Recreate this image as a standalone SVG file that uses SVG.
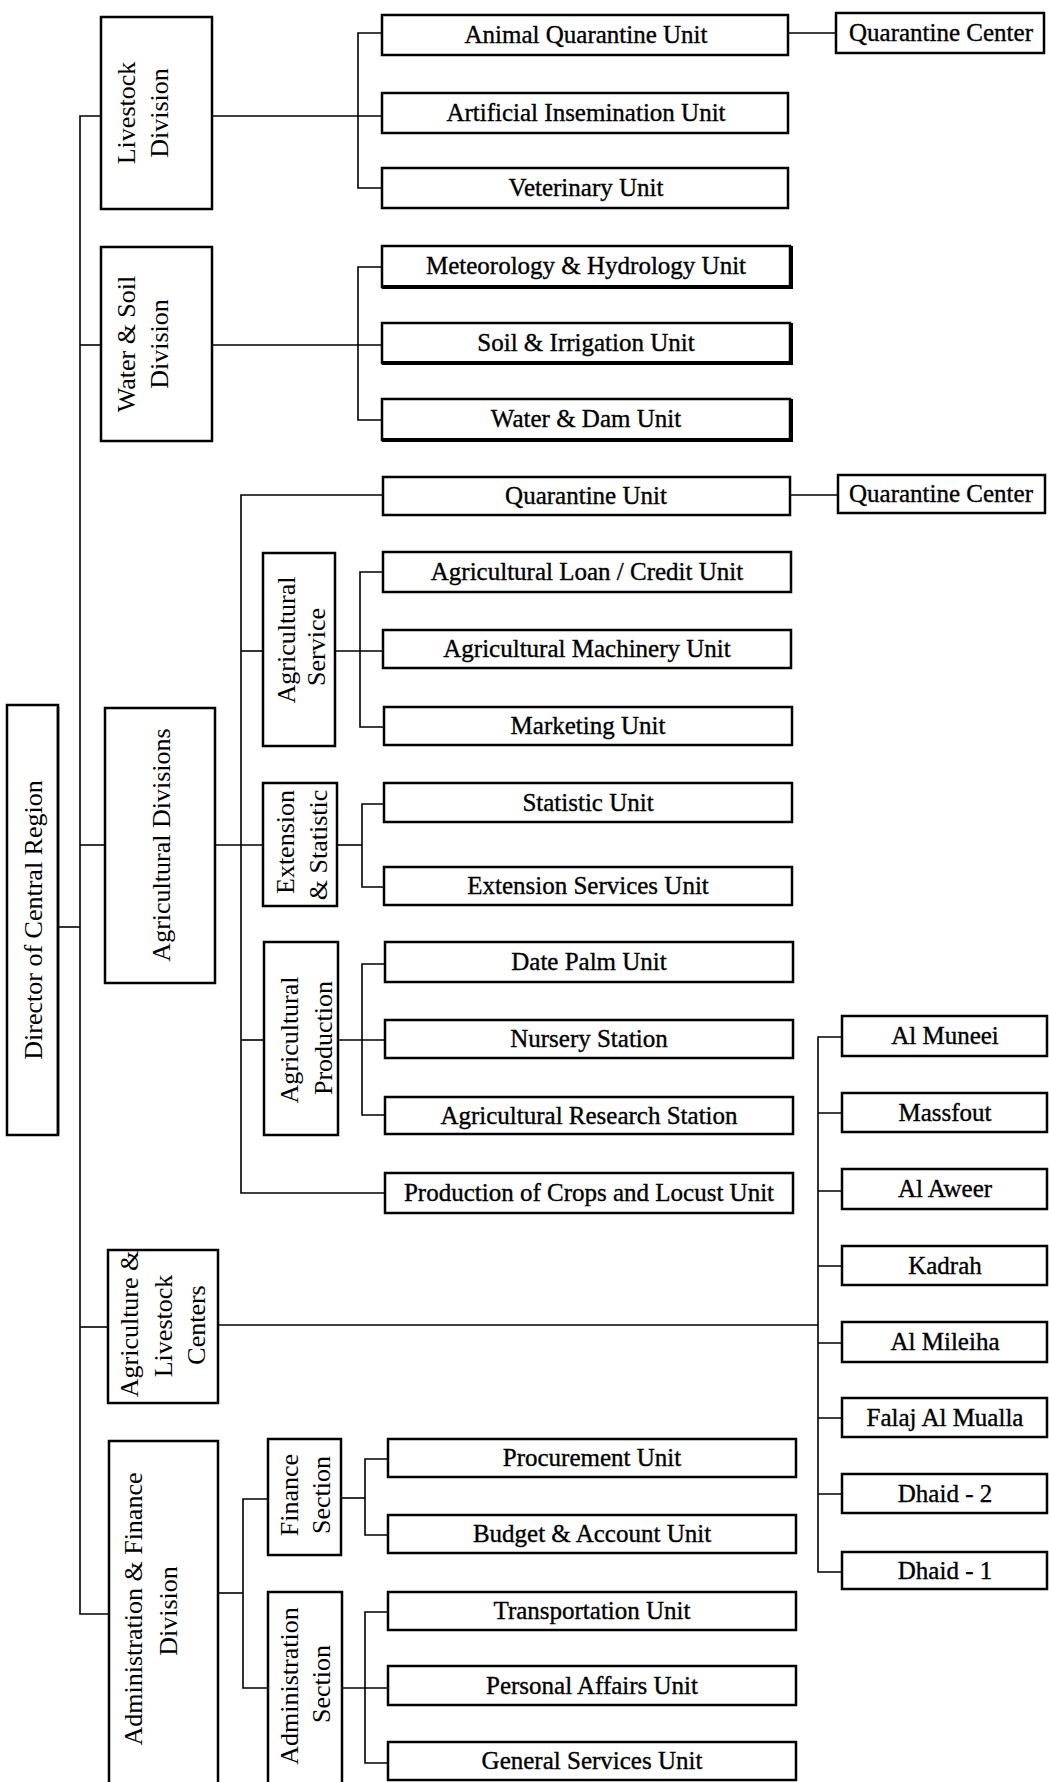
<svg xmlns="http://www.w3.org/2000/svg" width="1049" height="1782" viewBox="0 0 1049 1782">
<style>
.bg{fill:#fff}
.box{fill:#fff;stroke:#000;stroke-width:2.5}
.ln{fill:none;stroke:#000;stroke-width:1.6}
.u{font-family:"Liberation Serif","Times New Roman",serif;font-size:25px;text-anchor:middle;fill:#000;stroke:#000;stroke-width:0.35}
.r{font-family:"Liberation Serif","Times New Roman",serif;font-size:26px;text-anchor:middle;fill:#000}
.sh{fill:none;stroke:#000;stroke-width:2.5}
</style>
<rect class="bg" x="0" y="0" width="1049" height="1782"/>

<g id="connectors">
<path class="ln" d="M101,116 H80 V1614 H109"/>
<path class="ln" d="M80,345 H101"/>
<path class="ln" d="M58,927 H80"/>
<path class="ln" d="M80,845 H105"/>
<path class="ln" d="M80,1327 H108"/>
<path class="ln" d="M212,116 H382"/>
<path class="ln" d="M382,33 H358 V188 H382"/>
<path class="ln" d="M788,33 H836"/>
<path class="ln" d="M212,345 H382"/>
<path class="ln" d="M382,267 H358 V420 H382"/>
<path class="ln" d="M215,845 H263"/>
<path class="ln" d="M383,495 H241 V1193 H385"/>
<path class="ln" d="M790,495 H838"/>
<path class="ln" d="M241,651 H263"/>
<path class="ln" d="M335,651 H383"/>
<path class="ln" d="M383,572 H360 V727 H384"/>
<path class="ln" d="M337,845 H362"/>
<path class="ln" d="M384,804 H362 V887 H384"/>
<path class="ln" d="M241,1040 H264"/>
<path class="ln" d="M338,1040 H385"/>
<path class="ln" d="M385,964 H362 V1115 H385"/>
<path class="ln" d="M218,1325 H818"/>
<path class="ln" d="M842,1037 H818 V1572 H842"/>
<path class="ln" d="M818,1113 H842 M818,1191 H842 M818,1266 H842 M818,1343 H842 M818,1418 H842 M818,1494 H842"/>
<path class="ln" d="M218,1593 H243"/>
<path class="ln" d="M268,1499 H243 V1688 H268"/>
<path class="ln" d="M341,1498 H365"/>
<path class="ln" d="M388,1459 H365 V1535 H388"/>
<path class="ln" d="M342,1688 H388"/>
<path class="ln" d="M388,1612 H365 V1763 H388"/>
</g>

<g id="director"><rect class="box" x="7" y="705" width="51" height="430"/><path class="sh" d="M58,707 V1135"/><text class="r" transform="translate(42,920) rotate(-90)">Director of Central Region</text></g>

<g id="livestock-division"><rect class="box" x="101" y="17" width="111" height="192"/><text class="r" transform="translate(135,113) rotate(-90)">Livestock</text><text class="r" transform="translate(168,113) rotate(-90)">Division</text></g>
<g id="water-soil-division"><rect class="box" x="101" y="247" width="111" height="194"/><text class="r" transform="translate(135,344) rotate(-90)">Water &amp; Soil</text><text class="r" transform="translate(168,344) rotate(-90)">Division</text></g>
<g id="agricultural-divisions"><rect class="box" x="105" y="708" width="110" height="275"/><text class="r" transform="translate(170,845) rotate(-90)">Agricultural Divisions</text></g>
<g id="agri-livestock-centers"><rect class="box" x="108" y="1250" width="110" height="153"/><text class="r" transform="translate(138,1324) rotate(-90)">Agriculture &amp;</text><text class="r" transform="translate(172,1326) rotate(-90)">Livestock</text><text class="r" transform="translate(205,1325) rotate(-90)">Centers</text></g>
<g id="admin-finance-division"><rect class="box" x="109" y="1441" width="109" height="350"/><text class="r" transform="translate(142,1609) rotate(-90)">Administration &amp; Finance</text><text class="r" transform="translate(177,1611) rotate(-90)">Division</text></g>

<g id="agricultural-service"><rect class="box" x="263" y="553" width="72" height="193"/><text class="r" transform="translate(295,640) rotate(-90)">Agricultural</text><text class="r" transform="translate(325,647) rotate(-90)">Service</text></g>
<g id="extension-statistic"><rect class="box" x="263" y="783" width="74" height="123"/><text class="r" transform="translate(294,842) rotate(-90)">Extension</text><text class="r" transform="translate(327,845) rotate(-90)">&amp; Statistic</text></g>
<g id="agricultural-production"><rect class="box" x="264" y="942" width="74" height="193"/><text class="r" transform="translate(298,1040) rotate(-90)">Agricultural</text><text class="r" transform="translate(332,1038) rotate(-90)">Production</text></g>
<g id="finance-section"><rect class="box" x="268" y="1439" width="73" height="116"/><text class="r" transform="translate(298,1495) rotate(-90)">Finance</text><text class="r" transform="translate(330,1495) rotate(-90)">Section</text></g>
<g id="administration-section"><rect class="box" x="268" y="1592" width="74" height="200"/><text class="r" transform="translate(298,1686) rotate(-90)">Administration</text><text class="r" transform="translate(330,1684) rotate(-90)">Section</text></g>

<g id="animal-quarantine-unit"><rect class="box" x="382" y="15" width="406" height="40"/><text class="u" x="586" y="43">Animal Quarantine Unit</text></g>
<g id="quarantine-center-1"><rect class="box" x="836" y="13" width="208" height="40"/><text class="u" x="941" y="41">Quarantine Center</text></g>
<g id="artificial-insemination-unit"><rect class="box" x="382" y="93" width="406" height="40"/><text class="u" x="586" y="121">Artificial Insemination Unit</text></g>
<g id="veterinary-unit"><rect class="box" x="382" y="168" width="406" height="40"/><text class="u" x="586" y="196">Veterinary Unit</text></g>
<g id="meteorology-hydrology-unit"><rect class="box" x="382" y="246" width="408" height="41"/><path class="sh" d="M382,287 H791 V246" style="stroke-width:4"/><text class="u" x="586" y="274">Meteorology &amp; Hydrology Unit</text></g>
<g id="soil-irrigation-unit"><rect class="box" x="382" y="323" width="408" height="40"/><path class="sh" d="M382,363 H791 V323" style="stroke-width:4"/><text class="u" x="586" y="351">Soil &amp; Irrigation Unit</text></g>
<g id="water-dam-unit"><rect class="box" x="382" y="399" width="408" height="41"/><path class="sh" d="M382,440 H791 V399" style="stroke-width:4"/><text class="u" x="586" y="427">Water &amp; Dam Unit</text></g>
<g id="quarantine-unit"><rect class="box" x="383" y="477" width="407" height="38"/><text class="u" x="586" y="504">Quarantine Unit</text></g>
<g id="quarantine-center-2"><rect class="box" x="838" y="475" width="207" height="38"/><text class="u" x="941" y="502">Quarantine Center</text></g>
<g id="agri-loan-credit-unit"><rect class="box" x="383" y="552" width="408" height="40"/><text class="u" x="587" y="580">Agricultural Loan / Credit Unit</text></g>
<g id="agri-machinery-unit"><rect class="box" x="383" y="630" width="408" height="38"/><text class="u" x="587" y="657">Agricultural Machinery Unit</text></g>
<g id="marketing-unit"><rect class="box" x="384" y="707" width="408" height="38"/><text class="u" x="588" y="734">Marketing Unit</text></g>
<g id="statistic-unit"><rect class="box" x="384" y="783" width="408" height="39"/><text class="u" x="588" y="811">Statistic Unit</text></g>
<g id="extension-services-unit"><rect class="box" x="384" y="867" width="408" height="38"/><text class="u" x="588" y="894">Extension Services Unit</text></g>
<g id="date-palm-unit"><rect class="box" x="385" y="942" width="408" height="40"/><text class="u" x="589" y="970">Date Palm Unit</text></g>
<g id="nursery-station"><rect class="box" x="385" y="1020" width="408" height="38"/><text class="u" x="589" y="1047">Nursery Station</text></g>
<g id="agri-research-station"><rect class="box" x="385" y="1097" width="408" height="37"/><text class="u" x="589" y="1124">Agricultural Research Station</text></g>
<g id="crops-locust-unit"><rect class="box" x="385" y="1173" width="408" height="40"/><text class="u" x="589" y="1201">Production of Crops and Locust Unit</text></g>
<g id="procurement-unit"><rect class="box" x="388" y="1439" width="408" height="38"/><text class="u" x="592" y="1466">Procurement Unit</text></g>
<g id="budget-account-unit"><rect class="box" x="388" y="1515" width="408" height="38"/><text class="u" x="592" y="1542">Budget &amp; Account Unit</text></g>
<g id="transportation-unit"><rect class="box" x="388" y="1592" width="408" height="38"/><text class="u" x="592" y="1619">Transportation Unit</text></g>
<g id="personal-affairs-unit"><rect class="box" x="388" y="1666" width="408" height="39"/><text class="u" x="592" y="1694">Personal Affairs Unit</text></g>
<g id="general-services-unit"><rect class="box" x="388" y="1742" width="408" height="38"/><text class="u" x="592" y="1769">General Services Unit</text></g>

<g id="al-muneei"><rect class="box" x="842" y="1016" width="205" height="40"/><text class="u" x="945" y="1044">Al Muneei</text></g>
<g id="massfout"><rect class="box" x="842" y="1093" width="205" height="39"/><text class="u" x="945" y="1121">Massfout</text></g>
<g id="al-aweer"><rect class="box" x="842" y="1169" width="205" height="40"/><text class="u" x="945" y="1197">Al Aweer</text></g>
<g id="kadrah"><rect class="box" x="842" y="1246" width="205" height="39"/><text class="u" x="945" y="1274">Kadrah</text></g>
<g id="al-mileiha"><rect class="box" x="842" y="1322" width="205" height="40"/><text class="u" x="945" y="1350">Al Mileiha</text></g>
<g id="falaj-al-mualla"><rect class="box" x="842" y="1398" width="205" height="39"/><text class="u" x="945" y="1426">Falaj Al Mualla</text></g>
<g id="dhaid-2"><rect class="box" x="842" y="1474" width="205" height="39"/><text class="u" x="945" y="1502">Dhaid - 2</text></g>
<g id="dhaid-1"><rect class="box" x="842" y="1552" width="205" height="37"/><text class="u" x="945" y="1579">Dhaid - 1</text></g>
</svg>
